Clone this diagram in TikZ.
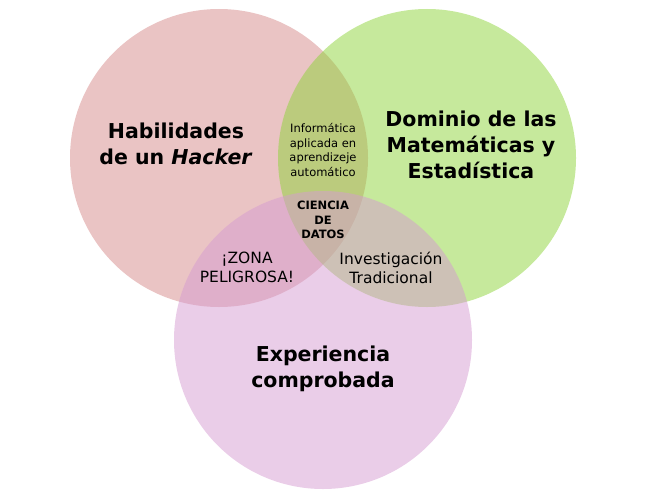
\documentclass[tikz,border=0pt]{standalone}
\usepackage{fontspec}
\setmainfont{DejaVu Sans}
\definecolor{VennRed}{RGB}{213,137,137}
\definecolor{VennGreen}{RGB}{141,211,57}
\definecolor{VennPurple}{RGB}{213,155,209}
\usepackage{tikz}
\usetikzlibrary{positioning}

\begin{document}
\begin{tikzpicture}[x=1pt,y=-1pt,
    big/.style={font=\fontsize{20.5}{26}\selectfont\bfseries, align=center},
    small/.style={font=\fontsize{11.5}{14.5}\selectfont, align=center},
    mid/.style={font=\fontsize{15.5}{19}\selectfont, align=center}]
        \useasboundingbox (0,0) rectangle (647,500);
        \fill[VennRed, fill opacity=0.5] (219,158) circle (149);
        \fill[VennGreen, fill opacity=0.5] (427,158) circle (149);
        \fill[VennPurple, fill opacity=0.5] (323,340) circle (149);
        \node[big] (hacker) at (176,144) {Habilidades\\de un \textit{Hacker}};
        \node[big] (mates) at (471,145) {Dominio de las\\Matemáticas y\\Estadística};
        \node[big] (expe) at (323,369) {Experiencia\\comprobada};
        \node[small] (info) at (323,150) {Informática\\aplicada en\\aprendizeje\\automático};
        \node[small, font=\fontsize{11.5}{14.5}\selectfont\bfseries] (ciencia) at (323,220) {CIENCIA\\DE\\DATOS};
        \node[mid] (zona) at (247,267) {¡ZONA\\PELIGROSA!};
        \node[mid] (invest) at (391,268) {Investigación\\Tradicional};
    \end{tikzpicture}
\end{document}
